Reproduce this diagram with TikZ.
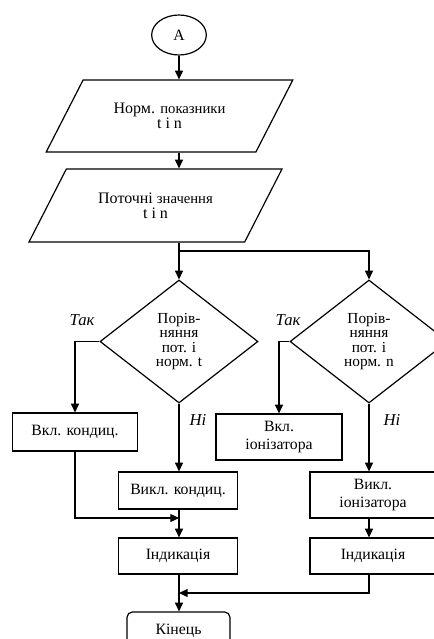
\documentclass[tikz,border=0pt]{standalone}
\usepackage{fontspec}
\setmainfont{Liberation Serif}
\usetikzlibrary{shapes.geometric,arrows.meta}

\newcommand{\smtxt}[1]{{\fontsize{11}{12}\selectfont #1}}

\tikzset{
  ln/.style={line width=0.9pt},
  arr/.style={ln, -{Triangle[length=6.5pt,width=6pt]}},
  blk/.style={draw, ln, rectangle, align=center, inner sep=0.75pt},
  para/.style={blk, trapezium, trapezium left angle=49, trapezium right angle=131, trapezium stretches=true, font=\fontsize{12}{11.5}\selectfont},
  cond/.style={blk, diamond, minimum width=118.5pt, minimum height=92.25pt, font=\fontsize{11.5}{10.8}\selectfont},
  lbl/.style={inner sep=0.75pt, font=\itshape\fontsize{12.5}{13}\selectfont}
}

\begin{document}
\begin{tikzpicture}[x=0.75pt,y=0.75pt,yscale=-1,xscale=1,font=\fontsize{11.8}{12.8}\selectfont]
\useasboundingbox (0,0) rectangle (434,639);

%Shape: Ellipse
\node [blk, ellipse, minimum width=41pt, minimum height=30pt, inner sep=0pt] (a) at (179,35) {A};
%Shape: Parallelogram
\node [para, minimum width=185.25pt, minimum height=54pt] (norm) at (169.5,116) {Норм. \smtxt{показники}\\t i n};
\node [para, minimum width=189.75pt, minimum height=54.75pt] (pot) at (155.5,205.5) {Поточні \smtxt{значення}\\t i n};
%Shape: Diamond
\node [cond] (d1) at (179,341.5) {Порів-\\няння\\пот. і\\норм. t};
\node [cond] (d2) at (369,341.5) {Порів-\\няння\\пот. і\\норм. n};
%Shape: Rectangle
\node [blk, minimum width=93.75pt, minimum height=28.5pt] (vklk) at (75,432) {Вкл. кондиц.};
\node [blk, minimum width=89.25pt, minimum height=27.75pt] (vyklk) at (178,490.5) {Викл. кондиц.};
\node [blk, minimum width=89.25pt, minimum height=27pt] (ind1) at (178,556) {Індикація};
\node [blk, minimum width=94.5pt, minimum height=34.5pt] (vkli) at (279,437) {Вкл.\\іонізатора};
\node [blk, minimum width=94.5pt, minimum height=34.5pt] (vykli) at (373,495) {Викл.\\іонізатора};
\node [blk, minimum width=94.5pt, minimum height=27pt] (ind2) at (373,556) {Індикація};
\node [blk, rounded corners=4pt, minimum width=77.25pt, minimum height=28.5pt] (kin) at (178.5,631) {Кінець};

% Text Node
\node [lbl] (tak1) at (82,320) {Так};
\node [lbl] (tak2) at (288,320) {Так};
\node [lbl] (ni1) at (198,420) {Ні};
\node [lbl] (ni2) at (392,420) {Ні};

\coordinate (br) at (179,251);
\coordinate (j1) at (179,518);
\coordinate (j2) at (179,593);

%Shape: Connectors
\draw [arr] (a.south) -- (a.south |- norm.north);
\draw [arr] (a.south |- norm.south) -- (a.south |- pot.north);
\draw [arr] (a.south |- pot.south) -- (d1.north);
\draw [arr] (br) -| (d2.north);
\draw [arr] (d1.west) -| (vklk.north);
\draw [arr] (d1.south) -- (d1.south |- vyklk.north);
\draw [arr] (vklk.south) |- (j1);
\draw [arr] (d1.south |- vyklk.south) -- (d1.south |- ind1.north);
\draw [arr] (d1.south |- ind1.south) -- (d1.south |- kin.north);
\draw [arr] (d2.west) -| (vkli.north);
\draw [arr] (d2.south) -- (d2.south |- vykli.north);
\draw [arr] (d2.south |- vykli.south) -- (d2.south |- ind2.north);
\draw [arr] (d2.south |- ind2.south) |- (j2);

\end{tikzpicture}
\end{document}
